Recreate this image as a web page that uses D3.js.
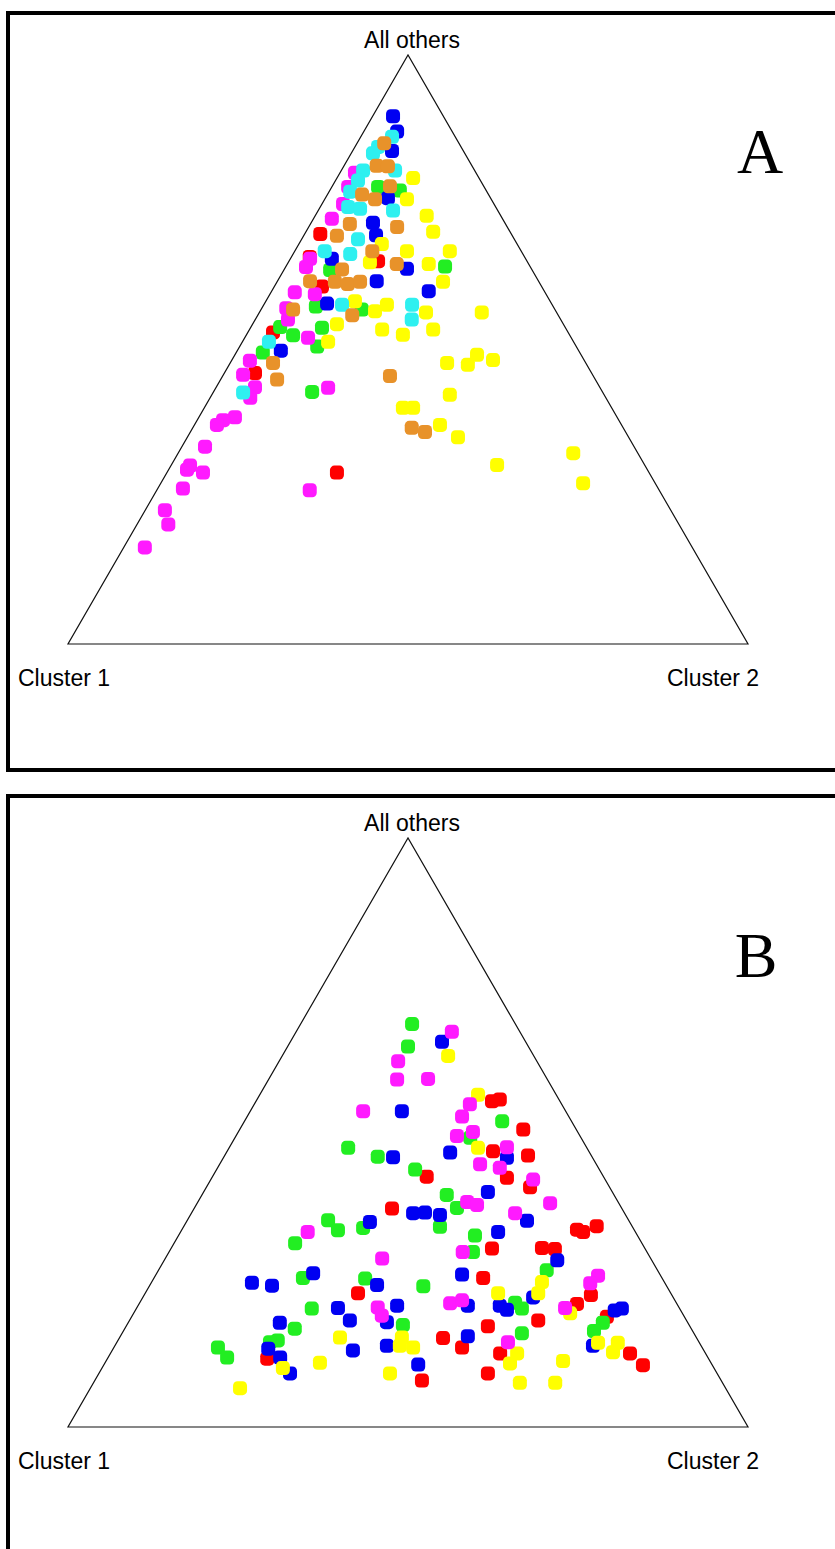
<!DOCTYPE html>
<html>
<head>
<meta charset="utf-8">
<script src="https://cdn.jsdelivr.net/npm/d3@7"></script>
<style>
    html, body { margin: 0; padding: 0; background: #ffffff; }
    #chart { width: 835px; height: 1549px; }
</style>
</head>
<body>
<div id="chart"></div>
<script>
// Sommets du triangle et lettres des panneaux
const vertexLabels = ['Cluster 1', 'Cluster 2', 'All others'];
const panelLetters = ['A', 'B'];

// Proportions [cluster 1, cluster 2] par individu (le reste = "All others")
// Panneau A
const panelA_red = [[0.281,0.023],[0.316,0.027],[0.323,0.070],[0.219,0.131],[0.434,0.037],[0.495,0.045],[0.459,0.250]];
const panelA_green = [[0.127,0.103],[0.156,0.068],[0.125,0.234],[0.297,0.068],[0.349,0.078],[0.284,0.148],[0.419,0.043],[0.407,0.069],[0.358,0.105],[0.381,0.114],[0.466,0.039],[0.427,0.145]];
const panelA_blue = [[0.074,0.030],[0.081,0.049],[0.105,0.058],[0.151,0.092],[0.194,0.091],[0.200,0.106],[0.285,0.061],[0.183,0.180],[0.238,0.146],[0.170,0.231],[0.330,0.092],[0.438,0.064]];
const panelA_magenta = [[0.178,0.022],[0.200,0.024],[0.222,0.031],[0.251,0.027],[0.317,0.029],[0.330,0.030],[0.368,0.035],[0.340,0.066],[0.394,0.036],[0.401,0.048],[0.387,0.093],[0.492,0.027],[0.514,0.029],[0.507,0.057],[0.400,0.165],[0.523,0.059],[0.562,0.053],[0.582,0.038],[0.595,0.033],[0.631,0.034],[0.669,0.028],[0.677,0.027],[0.656,0.053],[0.699,0.037],[0.514,0.225],[0.744,0.029],[0.751,0.046],[0.805,0.031]];
const panelA_yellow = [[0.097,0.112],[0.124,0.121],[0.109,0.164],[0.113,0.187],[0.199,0.122],[0.168,0.165],[0.105,0.228],[0.232,0.120],[0.147,0.208],[0.141,0.244],[0.287,0.131],[0.266,0.169],[0.243,0.181],[0.192,0.245],[0.110,0.327],[0.333,0.124],[0.271,0.195],[0.245,0.230],[0.196,0.270],[0.361,0.126],[0.204,0.319],[0.175,0.351],[0.153,0.356],[0.134,0.384],[0.227,0.350],[0.307,0.292],[0.292,0.307],[0.267,0.361],[0.251,0.398],[0.217,0.479],[0.095,0.581],[0.106,0.621]];
const panelA_cyan = [[0.093,0.046],[0.122,0.034],[0.135,0.032],[0.164,0.032],[0.117,0.079],[0.180,0.033],[0.201,0.031],[0.217,0.041],[0.201,0.060],[0.154,0.110],[0.230,0.083],[0.289,0.044],[0.254,0.084],[0.309,0.115],[0.206,0.218],[0.219,0.230],[0.448,0.039],[0.529,0.044]];
const panelA_orange = [[0.110,0.040],[0.140,0.048],[0.124,0.065],[0.138,0.085],[0.186,0.051],[0.171,0.074],[0.229,0.058],[0.162,0.130],[0.258,0.049],[0.219,0.114],[0.194,0.161],[0.279,0.085],[0.336,0.048],[0.300,0.085],[0.283,0.106],[0.263,0.122],[0.385,0.047],[0.303,0.139],[0.460,0.063],[0.468,0.083],[0.299,0.246],[0.311,0.322],[0.295,0.345]];

// Panneau B
const panelB_red = [[0.100,0.347],[0.087,0.357],[0.078,0.417],[0.141,0.391],[0.093,0.446],[0.260,0.315],[0.143,0.434],[0.117,0.476],[0.338,0.291],[0.084,0.581],[0.077,0.592],[0.052,0.607],[0.225,0.472],[0.151,0.545],[0.133,0.565],[0.263,0.484],[0.460,0.313],[0.119,0.657],[0.147,0.644],[0.114,0.699],[0.218,0.601],[0.297,0.532],[0.373,0.476],[0.353,0.512],[0.302,0.573],[0.111,0.764],[0.102,0.793],[0.649,0.235],[0.337,0.572],[0.440,0.481]];
const panelB_green = [[0.152,0.164],[0.177,0.177],[0.102,0.379],[0.163,0.346],[0.351,0.175],[0.315,0.226],[0.271,0.292],[0.246,0.360],[0.242,0.386],[0.283,0.377],[0.442,0.207],[0.436,0.230],[0.397,0.265],[0.510,0.178],[0.239,0.436],[0.256,0.447],[0.163,0.571],[0.528,0.219],[0.437,0.311],[0.358,0.403],[0.541,0.258],[0.237,0.552],[0.232,0.567],[0.125,0.698],[0.145,0.692],[0.583,0.250],[0.421,0.406],[0.253,0.588],[0.618,0.235],[0.631,0.225],[0.712,0.153],[0.707,0.175]];
const panelB_blue = [[0.123,0.223],[0.241,0.223],[0.205,0.329],[0.126,0.417],[0.293,0.249],[0.183,0.418],[0.311,0.326],[0.293,0.343],[0.273,0.367],[0.150,0.500],[0.382,0.270],[0.202,0.467],[0.139,0.578],[0.607,0.148],[0.580,0.180],[0.509,0.230],[0.425,0.334],[0.291,0.450],[0.206,0.574],[0.502,0.296],[0.413,0.381],[0.309,0.485],[0.262,0.532],[0.255,0.546],[0.097,0.705],[0.085,0.714],[0.442,0.380],[0.495,0.324],[0.600,0.223],[0.335,0.511],[0.639,0.228],[0.462,0.400],[0.516,0.354],[0.159,0.703],[0.629,0.253],[0.628,0.281],[0.432,0.462]];
const panelB_yellow = [[0.126,0.244],[0.115,0.321],[0.160,0.366],[0.180,0.574],[0.254,0.519],[0.195,0.578],[0.165,0.642],[0.524,0.324],[0.433,0.415],[0.443,0.419],[0.425,0.440],[0.277,0.598],[0.149,0.708],[0.120,0.737],[0.135,0.738],[0.634,0.266],[0.575,0.316],[0.216,0.672],[0.296,0.596],[0.481,0.428],[0.298,0.627],[0.246,0.679],[0.714,0.220]];
const panelB_magenta = [[0.100,0.229],[0.204,0.175],[0.221,0.189],[0.175,0.234],[0.135,0.317],[0.298,0.166],[0.157,0.316],[0.154,0.345],[0.181,0.325],[0.117,0.408],[0.171,0.383],[0.145,0.415],[0.106,0.474],[0.222,0.396],[0.210,0.413],[0.101,0.519],[0.161,0.476],[0.482,0.187],[0.271,0.432],[0.395,0.319],[0.092,0.651],[0.110,0.646],[0.443,0.354],[0.333,0.457],[0.313,0.472],[0.168,0.630],[0.444,0.367],[0.281,0.575]];

// Couleurs des groupes
const palette = {
    red: '#ff0000',
    green: '#22ee22',
    blue: '#0000f2',
    magenta: '#ff1aff',
    yellow: '#ffff00',
    cyan: '#2ef0f0',
    orange: '#e8922a'
};

/**
 * TernaryPlot - dessine un panneau triangulaire avec D3.js
 */
class TernaryPlot {
    constructor(svg, options = {}) {
        this.svg = svg;
        this.offsetY = options.offsetY || 0;
        this.frameHeight = options.frameHeight || 757;
        this.letter = options.letter;
        this.letterPos = options.letterPos;

        // Echelles : u = c2 + autres/2 (horizontal), autres (vertical)
        this.xScale = d3.scaleLinear().domain([0, 1]).range([68, 748]);
        this.yScale = d3.scaleLinear().domain([0, 1]).range([644, 55]);

        this.g = this.svg.append('g')
            .attr('transform', `translate(0,${this.offsetY})`);
    }

    project(c1, c2) {
        const others = 1 - c1 - c2;
        return [this.xScale(c2 + others / 2), this.yScale(others)];
    }

    render(series) {
        this.drawFrame();
        this.drawTriangle();
        this.drawPoints(series);
        this.drawLabels();
    }

    /**
     * Cadre noir épais autour du panneau
     */
    drawFrame() {
        this.g.append('rect')
            .attr('x', 8)
            .attr('y', 13)
            .attr('width', 850)
            .attr('height', this.frameHeight)
            .attr('fill', 'none')
            .attr('stroke', '#000')
            .attr('stroke-width', 4);
    }

    drawTriangle() {
        const corners = [this.project(1, 0), this.project(0, 1), this.project(0, 0)];
        this.g.append('path')
            .attr('d', d3.line()(corners) + 'Z')
            .attr('fill', 'none')
            .attr('stroke', '#111')
            .attr('stroke-width', 1.2);
    }

    drawPoints(series) {
        const size = 14;
        series.forEach(s => {
            this.g.append('g')
                .selectAll('rect')
                .data(s.points)
                .enter()
                .append('rect')
                .attr('x', d => this.project(d[0], d[1])[0] - size / 2)
                .attr('y', d => this.project(d[0], d[1])[1] - size / 2)
                .attr('width', size)
                .attr('height', size)
                .attr('rx', 4.5)
                .attr('fill', palette[s.color]);
        });
    }

    drawLabels() {
        const font = '"Liberation Sans", Arial, sans-serif';
        const c1 = this.project(1, 0);
        const c2 = this.project(0, 1);
        const top = this.project(0, 0);

        this.g.append('text')
            .attr('x', top[0] + 4)
            .attr('y', top[1] - 7)
            .attr('text-anchor', 'middle')
            .style('font-family', font)
            .style('font-size', '23px')
            .text(vertexLabels[2]);

        this.g.append('text')
            .attr('x', c1[0] - 50)
            .attr('y', c1[1] + 42)
            .style('font-family', font)
            .style('font-size', '23px')
            .text(vertexLabels[0]);

        this.g.append('text')
            .attr('x', c2[0] - 81)
            .attr('y', c2[1] + 42)
            .style('font-family', font)
            .style('font-size', '23px')
            .text(vertexLabels[1]);

        // Lettre du panneau
        this.g.append('text')
            .attr('x', this.letterPos[0])
            .attr('y', this.letterPos[1])
            .attr('text-anchor', 'middle')
            .style('font-family', '"Liberation Serif", "Times New Roman", serif')
            .style('font-size', '64px')
            .text(this.letter);
    }
}

const svg = d3.select('#chart')
    .append('svg')
    .attr('width', 835)
    .attr('height', 1549);

const plotA = new TernaryPlot(svg, { offsetY: 0, frameHeight: 757, letter: panelLetters[0], letterPos: [760, 173] });
plotA.render([
    { color: 'red', points: panelA_red },
    { color: 'green', points: panelA_green },
    { color: 'blue', points: panelA_blue },
    { color: 'magenta', points: panelA_magenta },
    { color: 'yellow', points: panelA_yellow },
    { color: 'cyan', points: panelA_cyan },
    { color: 'orange', points: panelA_orange }
]);

const plotB = new TernaryPlot(svg, { offsetY: 783, frameHeight: 900, letter: panelLetters[1], letterPos: [756, 194] });
plotB.render([
    { color: 'red', points: panelB_red },
    { color: 'green', points: panelB_green },
    { color: 'blue', points: panelB_blue },
    { color: 'yellow', points: panelB_yellow },
    { color: 'magenta', points: panelB_magenta }
]);
</script>
</body>
</html>
